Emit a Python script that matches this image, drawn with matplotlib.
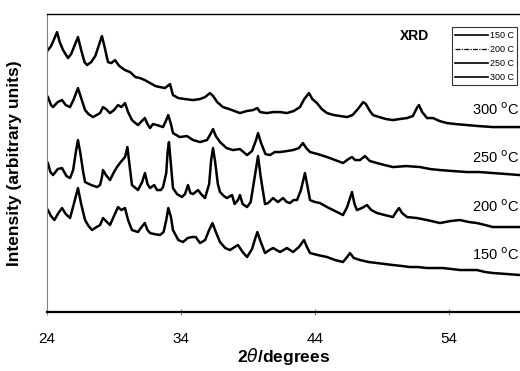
import matplotlib
matplotlib.use("Agg")
import matplotlib.pyplot as plt

plt.rcParams['font.family'] = ['Liberation Sans', 'DejaVu Sans']

# XRD traces: (2theta in degrees, intensity in arbitrary units, offsets included)
xrd_150 = [(24.07, 102), (24.3, 96), (24.55, 92), (24.85, 99), (25.12, 104), (25.4, 98), (25.72, 94),
           (26.0, 108), (26.31, 124), (26.55, 108), (26.84, 92), (27.1, 86), (27.36, 82), (27.7, 85),
           (27.96, 87), (28.18, 94), (28.4, 91), (28.70, 87), (29.0, 96), (29.30, 105), (29.55, 102),
           (29.82, 104), (30.05, 92), (30.34, 82), (30.79, 80), (31.0, 84), (31.3, 89), (31.5, 82),
           (31.69, 79), (32.0, 78), (32.43, 77), (32.7, 80), (32.9, 92), (33.05, 104), (33.25, 95),
           (33.40, 82), (33.8, 72), (34.15, 70), (34.5, 74), (34.8, 75), (35.1, 75), (35.42, 69),
           (35.8, 72), (36.1, 82), (36.35, 89), (36.6, 80), (36.91, 70), (37.3, 64), (37.66, 62),
           (38.0, 65), (38.25, 67), (38.6, 60), (38.93, 55), (39.3, 63), (39.55, 74), (39.7, 80),
           (39.9, 72), (40.27, 59), (40.6, 62), (40.87, 64), (41.39, 60), (41.91, 64), (42.36, 60),
           (42.8, 65), (43.18, 72), (43.4, 65), (43.63, 59), (44.2, 57), (44.90, 55), (45.5, 52),
           (46.09, 50), (46.4, 55), (46.61, 59), (46.9, 54), (47.36, 52), (48.0, 50), (48.63, 49),
           (49.2, 48), (49.82, 47), (50.5, 46), (51.09, 45), (51.7, 45), (52.36, 44), (53.0, 44),
           (53.55, 44), (54.2, 43), (54.82, 42), (55.5, 42), (56.09, 42), (56.7, 40), (57.28, 39),
           (58.3, 38), (59.30, 37)]

xrd_200 = [(24.07, 149), (24.25, 140), (24.45, 137), (24.8, 143), (25.12, 144), (25.45, 136), (25.72, 134),
           (25.95, 142), (26.15, 160), (26.31, 172), (26.5, 158), (26.7, 140), (26.84, 130), (27.3, 127),
           (27.73, 125), (27.96, 127), (28.1, 135), (28.18, 142), (28.4, 137), (28.70, 132), (29.0, 140),
           (29.22, 145), (29.5, 150), (29.82, 155), (30.0, 165), (30.15, 148), (30.34, 127), (30.79, 122),
           (31.1, 130), (31.31, 139), (31.5, 128), (31.69, 124), (32.0, 127), (32.21, 122), (32.5, 122),
           (32.66, 125), (32.9, 139), (33.0, 160), (33.10, 170), (33.2, 155), (33.40, 124), (33.7, 118),
           (34.07, 115), (34.3, 118), (34.52, 127), (34.7, 119), (34.90, 118), (35.27, 122), (35.5, 118),
           (35.79, 114), (36.1, 128), (36.25, 152), (36.39, 164), (36.55, 150), (36.75, 128), (36.91, 120),
           (37.2, 116), (37.43, 114), (37.81, 117), (38.0, 108), (38.25, 112), (38.40, 117), (38.6, 108),
           (38.93, 105), (39.2, 110), (39.5, 135), (39.75, 156), (39.95, 135), (40.27, 108), (40.5, 109),
           (40.87, 114), (41.24, 110), (41.61, 114), (41.9, 110), (42.13, 109), (42.4, 112), (42.66, 112),
           (42.95, 122), (43.25, 139), (43.45, 125), (43.63, 112), (44.0, 110), (44.37, 109), (44.9, 105),
           (45.34, 102), (45.8, 99), (46.09, 97), (46.4, 105), (46.76, 120), (46.95, 108), (47.13, 102),
           (47.5, 104), (47.88, 107), (48.2, 102), (48.63, 99), (49.2, 97), (49.82, 95), (50.05, 100),
           (50.27, 104), (50.5, 99), (50.87, 95), (51.6, 94), (52.36, 92), (53.33, 89), (54.1, 91),
           (54.82, 92), (55.5, 90), (56.09, 89), (56.7, 87), (57.28, 85), (58.3, 85), (59.30, 85)]

xrd_250 = [(24.07, 215), (24.3, 207), (24.45, 205), (24.8, 210), (25.12, 212), (25.4, 207), (25.72, 205),
           (26.0, 213), (26.31, 224), (26.5, 216), (26.84, 202), (27.1, 198), (27.43, 195), (27.7, 197),
           (27.96, 199), (28.18, 205), (28.4, 203), (28.70, 199), (29.0, 202), (29.30, 207), (29.55, 205),
           (29.82, 209), (30.05, 200), (30.34, 192), (30.6, 189), (30.79, 187), (31.0, 190), (31.3, 194),
           (31.5, 188), (31.69, 184), (31.9, 188), (32.21, 187), (32.66, 185), (32.9, 192), (33.05, 197),
           (33.25, 188), (33.40, 179), (33.9, 175), (34.45, 176), (34.9, 172), (35.42, 170), (35.94, 172),
           (36.2, 178), (36.39, 183), (36.6, 176), (36.91, 170), (37.4, 164), (37.88, 162), (38.4, 163),
           (38.93, 157), (39.3, 161), (39.6, 172), (39.75, 179), (39.95, 170), (40.3, 158), (40.64, 157),
           (41.0, 160), (41.39, 160), (41.9, 161), (42.36, 162), (42.8, 164), (43.10, 169), (43.35, 164),
           (43.63, 160), (44.2, 158), (44.90, 155), (45.5, 152), (46.09, 149), (46.5, 153), (46.76, 155),
           (47.0, 152), (47.36, 152), (47.73, 156), (48.1, 151), (48.63, 149), (49.2, 147), (49.82, 145),
           (50.8, 146), (51.84, 145), (52.6, 143), (53.33, 142), (54.3, 141), (55.34, 140), (56.3, 140),
           (57.28, 139), (58.3, 138), (59.30, 137)]

xrd_300 = [(24.07, 262), (24.3, 266), (24.5, 272), (24.75, 280), (24.95, 270), (25.2, 262), (25.57, 254),
           (25.8, 258), (26.1, 268), (26.31, 275), (26.55, 262), (26.8, 250), (26.99, 247), (27.3, 250),
           (27.6, 256), (27.9, 268), (28.10, 276), (28.3, 265), (28.55, 250), (28.8, 249), (29.07, 252),
           (29.4, 246), (29.82, 242), (30.2, 240), (30.6, 235), (30.94, 234), (31.3, 232), (31.7, 229),
           (32.1, 226), (32.43, 225), (32.8, 224), (33.18, 228), (33.40, 217), (33.8, 214), (34.3, 213),
           (34.90, 212), (35.4, 213), (35.8, 215), (36.16, 219), (36.4, 216), (36.7, 210), (37.13, 205),
           (37.6, 203), (38.0, 201), (38.40, 199), (38.9, 201), (39.37, 202), (39.7, 204), (39.90, 200),
           (40.4, 199), (40.9, 200), (41.39, 200), (41.9, 199), (42.4, 201), (42.88, 205), (43.2, 213),
           (43.55, 219), (43.8, 213), (44.15, 209), (44.5, 203), (44.90, 199), (45.4, 197), (45.9, 196),
           (46.39, 195), (46.8, 197), (47.2, 203), (47.6, 210), (47.8, 208), (48.1, 201), (48.33, 197),
           (48.8, 195), (49.3, 193), (49.82, 192), (50.3, 193), (50.87, 194), (51.3, 196), (51.6, 204),
           (51.76, 207), (52.0, 200), (52.36, 194), (52.81, 194), (53.3, 191), (53.85, 189), (54.5, 188),
           (55.34, 187), (56.2, 186), (57.28, 185), (58.2, 185), (59.30, 185)]

temps = ['150 C', '200 C', '250 C', '300 C']
curve_labels = ['150 $^{\\mathrm{o}}$C', '200 $^{\\mathrm{o}}$C', '250 $^{\\mathrm{o}}$C', '300 $^{\\mathrm{o}}$C']
label_y = [57, 105, 154, 202]

fig = plt.figure(figsize=(5.2, 3.71), dpi=100)
ax = fig.add_axes([0.0904, 0.159, 0.9096, 0.803])

series = [xrd_150, xrd_200, xrd_250, xrd_300]
for pts, t in zip(series, temps):
    x = [p[0] for p in pts]
    y = [p[1] for p in pts]
    ax.plot(x, y, color='black', linewidth=1.8, solid_joinstyle='round', label=t)

for lab, y in zip(curve_labels, label_y):
    ax.text(59.25, y, lab, ha='right', va='center', fontsize=10.5)

ax.text(50.34, 276, 'XRD', ha='left', va='center', fontsize=10, fontweight='bold')

leg = ax.legend(loc='upper right', bbox_to_anchor=(0.994, 0.956), fontsize=6.5,
                frameon=True, fancybox=False, edgecolor='black', handlelength=3.6,
                handletextpad=0.2, borderpad=0.4, labelspacing=0.55, borderaxespad=0)
leg.get_frame().set_linewidth(0.8)
for i, line in enumerate(leg.get_lines()):
    line.set_linewidth(1.2)
    if i == 1:
        line.set_linestyle((0, (4, 1, 1, 1)))
        line.set_linewidth(0.9)

ax.set_xlim(24, 59.3)
ax.set_ylim(0, 298)
ax.set_xticks([24, 34, 44, 54])
ax.set_yticks([])
ax.tick_params(axis='x', direction='inout', length=5, color='gray', labelsize=11, pad=12)

ax.spines['right'].set_visible(False)
ax.spines['left'].set_color('gray')
ax.spines['left'].set_linewidth(0.8)
ax.spines['bottom'].set_linewidth(1.6)
ax.spines['top'].set_linewidth(1.0)

ax.set_xlabel('2$\\theta$/degrees', fontsize=12.5, fontweight='bold', labelpad=0)
ax.set_ylabel('Intensity (arbitrary units)', fontsize=12.5, fontweight='bold')
ax.yaxis.set_label_coords(-0.053, 0.5)

fig.savefig('out.png', dpi=100)
